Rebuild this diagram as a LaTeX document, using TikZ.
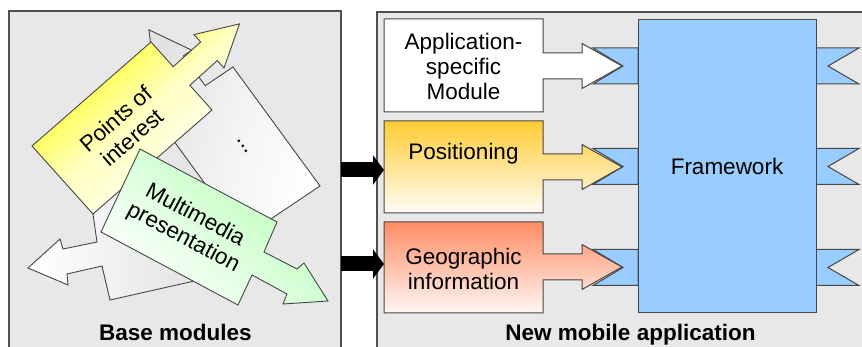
\documentclass[tikz,border=0pt]{standalone}
\usepackage{fontspec}
\setmainfont{Liberation Sans}
\usetikzlibrary{arrows.meta}
\definecolor{panelbg}{RGB}{232,232,232}
\definecolor{panelline}{RGB}{80,80,80}
\definecolor{shapeline}{RGB}{70,70,70}
\definecolor{fwblue}{RGB}{153,204,255}
\definecolor{posorange}{RGB}{255,204,51}
\definecolor{posbottom}{RGB}{255,252,246}
\definecolor{geored}{RGB}{255,140,100}
\definecolor{geobottom}{RGB}{255,247,244}
\definecolor{poiyellow}{RGB}{255,255,0}
\definecolor{poimid}{RGB}{255,255,195}
\definecolor{mmgreen}{RGB}{180,255,180}
\definecolor{modgray}{RGB}{222,222,222}
\definecolor{dotsgray}{RGB}{226,226,226}
\tikzset{
  panel/.style={draw=panelline, line width=1.2pt, fill=panelbg},
  modshape/.style={draw=shapeline, line width=0.9pt, line join=miter},
  boxshape/.style={draw=shapeline, line width=1pt, line join=miter},
  tabshape/.style={draw=shapeline, line width=1pt, fill=fwblue, line join=miter},
  lbl/.style={font=\fontsize{22.5}{25}\selectfont, align=center, inner sep=0pt},
  paneltitle/.style={font=\fontsize{22.5}{27}\selectfont\bfseries, inner sep=0pt, anchor=base},
  fwbox/.style={draw=shapeline, line width=1pt, fill=fwblue, minimum width=178pt,
    minimum height=293pt, inner sep=0pt, font=\fontsize{22.5}{25}\selectfont},
  bigarrow/.style={line width=15pt, black, -{Triangle[length=11pt,width=29pt]}},
}
\begin{document}
\begin{tikzpicture}[x=1pt,y=-1pt]
\useasboundingbox (0,0) rectangle (862,347);
\clip (0,0) rectangle (862,347);
\fill[white] (0,0) rectangle (862,347);

% panels
\draw[panel] (9,11) rectangle (341,362);
\draw[panel] (377,12) rectangle (880,362);

% ---- base modules (left panel) ----
% background module with left arrow
\draw[modshape, left color=white, right color=modgray]
  (110,300) -- (230,273) -- (225,210) -- (200,150) -- (190,100) -- (93,214)
  -- (97,242) -- (63,249) -- (60,239) -- (28,268) -- (68,285) -- (67,274)
  -- (102,266) -- cycle;
% "..." module with arrow to upper left
\draw[modshape, top color=dotsgray, bottom color=white, middle color=white!60!dotsgray, shading angle=75]
  (233,67) -- (320,186) -- (244,237) -- (157,118) -- (184.5,99.7) -- (162.7,69.8)
  -- (154.4,75.4) -- (148.9,29.8) -- (191.8,50.2) -- (183.4,55.8) -- (205.2,85.7)
  -- cycle;
% Points of interest
\draw[modshape, top color=poiyellow, bottom color=white, middle color=poimid, shading angle=42]
  (32,146) -- (151,42) -- (173.2,66.7) -- (200.7,42) -- (194,34.6) -- (239.5,23.9)
  -- (224,68) -- (217.3,60.6) -- (189.8,85.3) -- (212,110) -- (93,214) -- cycle;
% Multimedia presentation
\draw[modshape, top color=mmgreen, bottom color=white, shading angle=-40]
  (140,149) -- (277,222) -- (264,252) -- (297,269) -- (304,263) -- (328,301)
  -- (283,304) -- (287,294) -- (252,275) -- (238,305) -- (101,232) -- cycle;

\node[lbl, rotate=41] (poi) at (124,128) {Points of\\interest};
\node[lbl, rotate=-54] (dots) at (243,146) {...};
\node[lbl, rotate=-28] (mm) at (189,227) {Multimedia\\presentation};
\node[paneltitle] (bm) at (175.5,340) {Base modules};

% ---- new mobile application (right panel) ----
\foreach \yc in {66,166.5,267.5} {
  \draw[tabshape] (593,\yc-18) -- (638,\yc-18) -- (638,\yc+18) -- (593,\yc+18) -- (623,\yc) -- cycle;
  \draw[tabshape] (816,\yc-18) -- (859,\yc-18) -- (828,\yc) -- (859,\yc+18) -- (816,\yc+18) -- cycle;
}
\node[fwbox] (fw) at (727,166.5) {Framework};

% Application-specific module
\draw[boxshape, fill=white]
  (384,19) -- (543,19) -- (543,53) -- (582,53) -- (582,43.5) -- (622,66)
  -- (582,88.5) -- (582,79) -- (543,79) -- (543,112) -- (384,112) -- cycle;
% Positioning
\draw[boxshape, top color=posorange, bottom color=posbottom]
  (384,121) -- (543,121) -- (543,154) -- (582,154) -- (582,144.5) -- (622,167)
  -- (582,189.5) -- (582,180) -- (543,180) -- (543,213) -- (384,213) -- cycle;
% Geographic information
\draw[boxshape, top color=geored, bottom color=geobottom]
  (384,222) -- (543,222) -- (543,254) -- (582,254) -- (582,244.5) -- (622,267)
  -- (582,289.5) -- (582,280) -- (543,280) -- (543,313) -- (384,313) -- cycle;

\node[lbl] (app) at (463.5,66) {Application-\\specific\\Module};
\node[lbl] (pos) at (463.5,154) {Positioning};
\node[lbl] (geo) at (463.5,268.5) {Geographic\\information};
\node[paneltitle] (nma) at (630.5,340) {New mobile application};

% black arrows between panels
\coordinate (out1) at (341,170);
\coordinate (in1) at (384,170);
\coordinate (out2) at (341,264);
\coordinate (in2) at (384,264);
\draw[bigarrow] (out1) -- (in1);
\draw[bigarrow] (out2) -- (in2);
\end{tikzpicture}
\end{document}
